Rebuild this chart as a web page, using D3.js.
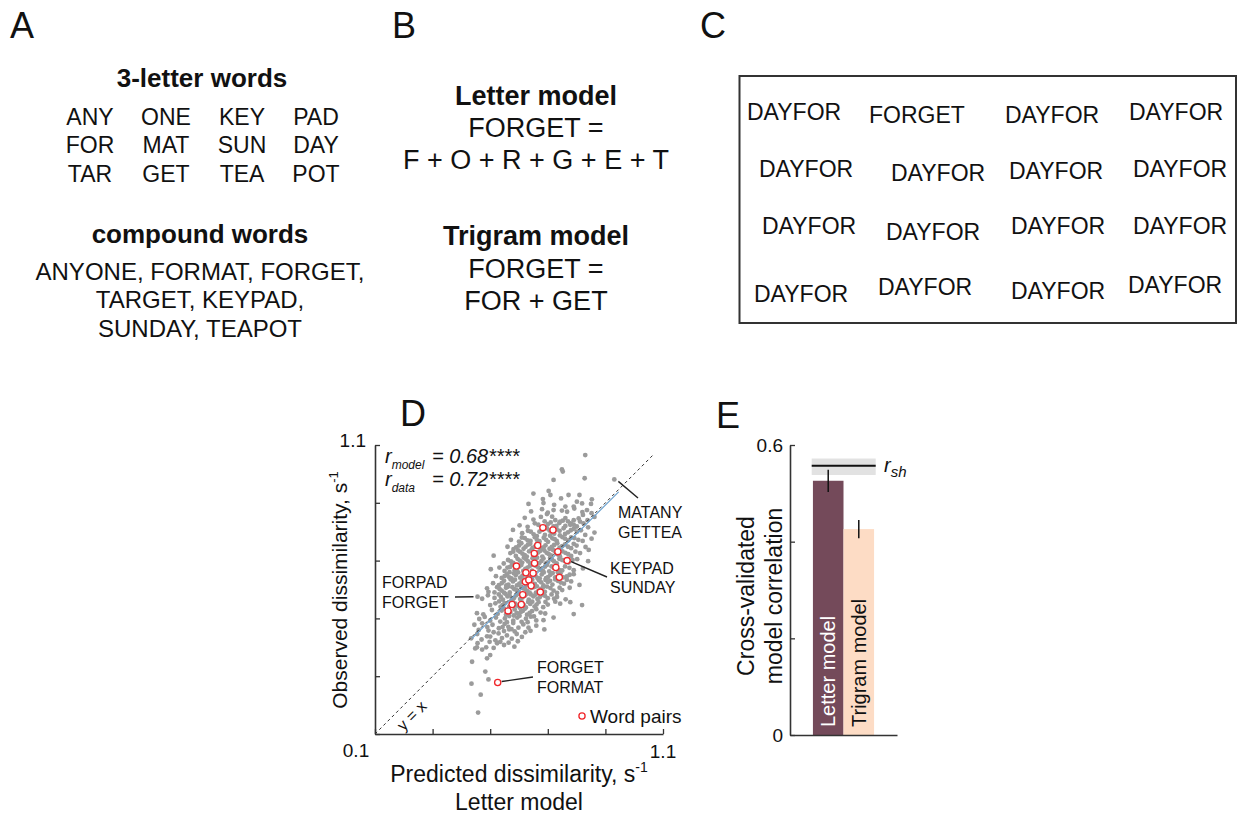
<!DOCTYPE html>
<html>
<head>
<meta charset="utf-8">
<title>Word model figure</title>
<script src="https://cdnjs.cloudflare.com/ajax/libs/d3/7.8.5/d3.min.js"></script>
<style>
  body { margin: 0; background: #fff; }
  svg { font-family: "Liberation Sans", Arial, sans-serif; fill: #111; }
</style>
</head>
<body>
<svg id="fig" width="1237" height="814"></svg>
<script>
// ---- panel A: stimuli
const threeLetter = [
  ["ANY", "ONE", "KEY", "PAD"],
  ["FOR", "MAT", "SUN", "DAY"],
  ["TAR", "GET", "TEA", "POT"]
];
const compoundLines = ["ANYONE, FORMAT, FORGET,", "TARGET, KEYPAD,", "SUNDAY, TEAPOT"];

// ---- panel B: models
const letterModel = ["FORGET =", "F + O + R + G + E + T"];
const trigramModel = ["FORGET =", "FOR + GET"];

// ---- panel C: search array
const searchWords = [
  "DAYFOR", "FORGET", "DAYFOR", "DAYFOR",
  "DAYFOR", "DAYFOR", "DAYFOR", "DAYFOR",
  "DAYFOR", "DAYFOR", "DAYFOR", "DAYFOR",
  "DAYFOR", "DAYFOR", "DAYFOR", "DAYFOR"
];

// ---- panel D: predicted vs observed dissimilarity (s^-1)
const grayPairs = [
  [0.458,0.174],[0.467,0.236],[0.435,0.274],[0.494,0.289],[0.483,0.316],[0.437,0.350],[0.489,0.362],[0.500,0.373],
  [0.448,0.396],[0.454,0.400],[0.456,0.414],[0.486,0.400],[0.498,0.419],[0.524,0.414],[0.535,0.419],[0.564,0.416],
  [0.584,0.402],[0.472,0.392],[0.512,0.398],[0.548,0.408],[0.596,0.421],
  [0.434,0.431],[0.470,0.427],[0.489,0.438],[0.500,0.437],[0.518,0.424],[0.529,0.448],[0.541,0.432],[0.558,0.441],
  [0.575,0.430],[0.592,0.446],[0.610,0.436],[0.622,0.452],[0.455,0.446],[0.494,0.458],[0.512,0.452],[0.548,0.456],
  [0.566,0.462],[0.640,0.457],[0.460,0.460],[0.585,0.455],
  [0.445,0.478],[0.472,0.483],[0.490,0.470],[0.508,0.478],[0.530,0.466],[0.550,0.481],[0.563,0.471],[0.580,0.484],
  [0.598,0.468],[0.615,0.479],[0.633,0.468],[0.660,0.475],[0.688,0.462],[0.574,0.463],[0.543,0.470],
  [0.462,0.498],[0.481,0.505],[0.500,0.492],[0.520,0.503],[0.535,0.489],[0.551,0.500],[0.566,0.508],[0.580,0.492],
  [0.594,0.503],[0.609,0.488],[0.624,0.499],[0.641,0.506],[0.660,0.493],[0.685,0.494],[0.720,0.503],[0.558,0.487],
  [0.602,0.509],[0.630,0.487],
  [0.454,0.518],[0.476,0.514],[0.506,0.529],[0.526,0.516],[0.540,0.527],[0.555,0.513],[0.570,0.522],[0.585,0.531],
  [0.598,0.516],[0.613,0.526],[0.628,0.513],[0.645,0.525],[0.660,0.532],[0.691,0.517],[0.790,0.515],[0.675,0.520],
  [0.548,0.534],[0.592,0.519],[0.620,0.533],
  [0.500,0.546],[0.518,0.552],[0.536,0.540],[0.550,0.553],[0.566,0.541],[0.579,0.556],[0.594,0.544],[0.610,0.555],
  [0.624,0.538],[0.639,0.550],[0.654,0.541],[0.668,0.556],[0.700,0.548],[0.726,0.558],[0.743,0.551],[0.778,0.556],
  [0.819,0.546],[0.684,0.539],[0.572,0.548],[0.603,0.537],[0.646,0.558],[0.531,0.559],
  [0.456,0.575],[0.472,0.568],[0.492,0.580],[0.515,0.571],[0.530,0.583],[0.544,0.565],[0.560,0.576],[0.574,0.564],
  [0.589,0.579],[0.604,0.567],[0.620,0.578],[0.634,0.565],[0.650,0.576],[0.664,0.567],[0.680,0.582],[0.700,0.570],
  [0.732,0.574],[0.762,0.566],[0.713,0.583],[0.596,0.584],[0.553,0.585],[0.641,0.583],
  [0.489,0.604],[0.494,0.592],[0.515,0.590],[0.524,0.608],[0.540,0.596],[0.555,0.606],[0.568,0.590],[0.584,0.601],
  [0.599,0.590],[0.614,0.604],[0.629,0.594],[0.644,0.606],[0.659,0.589],[0.675,0.601],[0.690,0.592],[0.709,0.605],
  [0.732,0.588],[0.750,0.598],[0.776,0.606],[0.562,0.610],[0.607,0.610],[0.652,0.608],[0.697,0.610],
  [0.510,0.622],[0.530,0.615],[0.548,0.630],[0.563,0.617],[0.579,0.628],[0.593,0.614],[0.609,0.627],[0.624,0.616],
  [0.638,0.630],[0.655,0.619],[0.669,0.632],[0.685,0.614],[0.700,0.626],[0.716,0.617],[0.735,0.630],[0.756,0.620],
  [0.781,0.628],[0.810,0.616],[0.571,0.635],[0.617,0.634],[0.662,0.611],[0.726,0.635],
  [0.520,0.646],[0.540,0.640],[0.558,0.652],[0.574,0.638],[0.589,0.650],[0.604,0.641],[0.620,0.655],[0.634,0.643],
  [0.649,0.657],[0.664,0.640],[0.679,0.652],[0.694,0.639],[0.709,0.651],[0.726,0.642],[0.744,0.656],[0.766,0.645],
  [0.790,0.653],[0.597,0.659],[0.642,0.637],[0.686,0.659],[0.567,0.660],[0.735,0.660],
  [0.502,0.670],[0.532,0.676],[0.550,0.664],[0.569,0.678],[0.585,0.667],[0.601,0.680],[0.615,0.664],[0.630,0.676],
  [0.645,0.665],[0.660,0.681],[0.675,0.668],[0.690,0.679],[0.705,0.663],[0.721,0.675],[0.740,0.667],[0.760,0.680],
  [0.790,0.667],[0.822,0.673],[0.608,0.685],[0.653,0.684],[0.697,0.685],[0.576,0.685],
  [0.547,0.690],[0.562,0.702],[0.580,0.692],[0.595,0.706],[0.611,0.693],[0.625,0.704],[0.640,0.690],[0.655,0.701],
  [0.670,0.691],[0.685,0.707],[0.700,0.694],[0.715,0.703],[0.731,0.690],[0.750,0.702],[0.772,0.693],[0.802,0.705],
  [0.840,0.698],[0.617,0.710],[0.663,0.710],[0.708,0.709],
  [0.512,0.717],[0.570,0.726],[0.589,0.716],[0.604,0.730],[0.620,0.719],[0.635,0.732],[0.650,0.717],[0.666,0.728],
  [0.681,0.714],[0.696,0.727],[0.711,0.718],[0.726,0.731],[0.742,0.715],[0.761,0.727],[0.781,0.716],[0.812,0.726],
  [0.842,0.737],[0.597,0.735],[0.643,0.737],[0.688,0.735],
  [0.560,0.748],[0.581,0.740],[0.600,0.752],[0.616,0.741],[0.631,0.755],[0.647,0.744],[0.662,0.757],[0.677,0.742],
  [0.692,0.753],[0.706,0.741],[0.722,0.754],[0.741,0.745],[0.760,0.756],[0.781,0.743],[0.800,0.752],[0.831,0.747],
  [0.608,0.760],[0.670,0.761],[0.733,0.760],
  [0.572,0.772],[0.600,0.766],[0.620,0.778],[0.640,0.768],[0.655,0.781],[0.671,0.767],[0.686,0.779],[0.701,0.765],
  [0.716,0.777],[0.731,0.768],[0.751,0.781],[0.771,0.770],[0.792,0.778],[0.821,0.768],[0.852,0.776],[0.662,0.785],
  [0.708,0.786],[0.742,0.787],
  [0.579,0.806],[0.611,0.795],[0.631,0.803],[0.651,0.791],[0.671,0.800],[0.690,0.789],[0.706,0.804],[0.722,0.793],
  [0.741,0.803],[0.760,0.792],[0.780,0.805],[0.801,0.800],[0.830,0.789],[0.862,0.797],[0.697,0.812],[0.755,0.812],
  [0.602,0.822],[0.630,0.817],[0.655,0.829],[0.679,0.815],[0.700,0.826],[0.720,0.818],[0.740,0.830],[0.761,0.820],
  [0.780,0.829],[0.801,0.818],[0.824,0.829],[0.840,0.815],[0.689,0.836],[0.752,0.838],
  [0.620,0.848],[0.650,0.842],[0.697,0.861],[0.715,0.852],[0.726,0.840],[0.743,0.835],[0.761,0.847],[0.790,0.840],
  [0.807,0.846],[0.822,0.858],[0.838,0.840],[0.862,0.851],[0.676,0.851],[0.778,0.824],
  [0.642,0.870],[0.680,0.878],[0.720,0.875],[0.749,0.873],[0.767,0.869],[0.792,0.880],[0.820,0.868],[0.836,0.875],
  [0.852,0.864],[0.700,0.866],
  [0.633,0.896],[0.685,0.899],[0.722,0.893],[0.761,0.887],[0.790,0.887],[0.801,0.904],[0.819,0.898],[0.850,0.896],
  [0.650,0.932],[0.683,0.913],[0.703,0.941],[0.709,0.927],[0.746,0.915],[0.772,0.927],[0.810,0.927],[0.853,0.912],
  [0.720,0.979],[0.749,1.016],[0.752,1.008],[0.828,0.985],[0.931,0.981],[0.830,1.065],
  // denser core
  [0.558,0.520],[0.582,0.510],[0.607,0.523],[0.637,0.519],[0.652,0.507],
  [0.543,0.546],[0.587,0.551],[0.617,0.546],[0.632,0.557],[0.661,0.548],[0.692,0.557],
  [0.537,0.574],[0.567,0.580],[0.582,0.570],[0.612,0.572],[0.627,0.584],[0.657,0.582],[0.672,0.573],[0.690,0.578],
  [0.722,0.568],[0.533,0.601],[0.548,0.589],[0.577,0.608],[0.592,0.598],[0.622,0.601],[0.637,0.589],[0.667,0.594],
  [0.683,0.607],[0.720,0.596],[0.741,0.606],[0.540,0.622],[0.556,0.614],[0.586,0.634],[0.601,0.620],[0.631,0.622],
  [0.646,0.634],[0.677,0.625],[0.692,0.633],[0.708,0.630],[0.745,0.624],[0.766,0.633],
  [0.550,0.646],[0.566,0.642],[0.582,0.656],[0.612,0.648],[0.627,0.638],[0.657,0.648],[0.672,0.638],[0.701,0.643],
  [0.717,0.657],[0.754,0.642],[0.776,0.651],[0.560,0.676],[0.593,0.672],[0.622,0.671],[0.638,0.682],[0.667,0.676],
  [0.683,0.664],[0.713,0.680],[0.730,0.672],[0.750,0.666],[0.775,0.675],
  [0.572,0.697],[0.603,0.700],[0.632,0.697],[0.647,0.708],[0.678,0.699],[0.693,0.690],[0.722,0.697],[0.740,0.706],
  [0.760,0.698],[0.786,0.702],[0.580,0.731],[0.612,0.724],[0.627,0.714],[0.658,0.722],[0.673,0.733],[0.703,0.723],
  [0.719,0.736],[0.734,0.722],[0.751,0.732],[0.771,0.722],[0.796,0.731],
  [0.590,0.746],[0.623,0.748],[0.639,0.758],[0.655,0.748],[0.685,0.746],[0.714,0.747],[0.750,0.750],[0.770,0.748],
  [0.790,0.758],[0.610,0.780],[0.630,0.770],[0.662,0.772],[0.694,0.772],[0.724,0.774],[0.760,0.776],[0.781,0.780],
  [0.806,0.772],[0.641,0.800],[0.680,0.806],[0.713,0.798],[0.731,0.808],[0.770,0.798],[0.790,0.810],[0.815,0.805],
  [0.667,0.824],[0.710,0.832],[0.730,0.820],[0.770,0.836],[0.790,0.824],[0.812,0.835]
];
const wordPairs = [
  [0.683,0.814],[0.718,0.806],[0.665,0.752],[0.653,0.725],[0.735,0.731],[0.767,0.700],[0.591,0.681],
  [0.654,0.691],[0.728,0.676],[0.624,0.658],[0.649,0.656],[0.740,0.642],[0.622,0.627],[0.634,0.633],
  [0.642,0.613],[0.674,0.591],[0.613,0.582],[0.576,0.548],[0.608,0.548],[0.562,0.526],[0.526,0.278]
];
const fitLine = [[0.437, 0.431], [0.946, 0.938]];
const diagEnd = 1.07;
const dTicks = [0.1, 0.3, 0.5, 0.7, 0.9, 1.1];
const rModel = "0.68", rData = "0.72";

// ---- panel E: cross-validated model correlation
const models = ["Letter model", "Trigram model"];
const modelCorr = [0.526, 0.426];
const modelErr = [0.023, 0.019];
const rsh = 0.557, rshLo = 0.538, rshHi = 0.572;
const eTicks = [0, 0.2, 0.4, 0.6];

const svg = d3.select("#fig");
const axisCol = "#333";

function txt(g, s, x, y, size, anchor) {
  return g.append("text").attr("x", x).attr("y", y)
    .attr("font-size", size).attr("text-anchor", anchor || "start").text(s);
}

// panel letters
[["A", 10, 38], ["B", 392, 38], ["C", 700, 38], ["D", 400, 426], ["E", 716, 428]]
  .forEach(d => txt(svg, d[0], d[1], d[2], 36));

// ---------- A
const gA = svg.append("g");
txt(gA, "3-letter words", 202, 87, 26, "middle").attr("font-weight", "bold");
const colX = [90, 166, 242, 316], rowY = [125, 153, 182];
threeLetter.forEach((row, i) => row.forEach((w, j) => txt(gA, w, colX[j], rowY[i], 23, "middle")));
txt(gA, "compound words", 200, 243, 26, "middle").attr("font-weight", "bold");
compoundLines.forEach((s, i) => txt(gA, s, 200, [280, 308, 337][i], 24, "middle"));

// ---------- B
const gB = svg.append("g");
txt(gB, "Letter model", 536, 105, 27, "middle").attr("font-weight", "bold");
letterModel.forEach((s, i) => txt(gB, s, 536, [137, 169][i], 27, "middle"));
txt(gB, "Trigram model", 536, 245, 27, "middle").attr("font-weight", "bold");
trigramModel.forEach((s, i) => txt(gB, s, 536, [278, 310][i], 27, "middle"));

// ---------- C
const gC = svg.append("g");
gC.append("rect").attr("x", 739.5).attr("y", 76).attr("width", 496.5).attr("height", 247)
  .attr("fill", "none").attr("stroke", "#333").attr("stroke-width", 2);
const cPos = [
  [747, 120], [869, 123], [1005, 123], [1129, 120],
  [759, 177], [891, 181], [1009, 179], [1133, 177],
  [762, 234], [886, 240], [1011, 234], [1133, 234],
  [754, 302], [878, 295], [1011, 299], [1128, 293]
];
searchWords.forEach((w, i) => txt(gC, w, cPos[i][0], cPos[i][1], 23));

// ---------- D
const gD = svg.append("g");
const x = d3.scaleLinear().domain([0.1, 1.1]).range([375, 663]);
const y = d3.scaleLinear().domain([0.1, 1.1]).range([734, 445]);

function styleAxis(g) {
  g.select(".domain").attr("stroke", axisCol).attr("stroke-width", 1.6);
  g.selectAll(".tick line").attr("stroke", axisCol).attr("stroke-width", 1.3);
  g.selectAll(".tick text").attr("font-size", 19).attr("fill", "#111")
    .attr("font-family", '"Liberation Sans", Arial, sans-serif');
}

gD.append("g").attr("transform", "translate(0,734)")
  .call(d3.axisBottom(x).tickValues(dTicks).tickSizeInner(-5).tickSizeOuter(0).tickFormat(""))
  .call(styleAxis);
gD.append("g").attr("transform", "translate(375,0)")
  .call(d3.axisLeft(y).tickValues(dTicks).tickSizeInner(-5).tickSizeOuter(0).tickFormat(""))
  .call(styleAxis);

txt(gD, "1.1", 366, 447, 19, "end");
txt(gD, "0.1", x(0.1) - 19, 757, 19, "middle");
txt(gD, "1.1", x(1.1), 758, 19, "middle");

gD.selectAll("circle.g").data(grayPairs).join("circle").attr("class", "g")
  .attr("cx", d => x(d[0])).attr("cy", d => y(d[1])).attr("r", 2.4).attr("fill", "#9b9b9b");

gD.append("line")
  .attr("x1", x(fitLine[0][0])).attr("y1", y(fitLine[0][1]))
  .attr("x2", x(fitLine[1][0])).attr("y2", y(fitLine[1][1]))
  .attr("stroke", "#6fa3d0").attr("stroke-width", 1.2);
gD.append("line")
  .attr("x1", x(0.1)).attr("y1", y(0.1)).attr("x2", x(diagEnd)).attr("y2", y(diagEnd))
  .attr("stroke", "#333").attr("stroke-width", 1).attr("stroke-dasharray", "3,3");

gD.selectAll("circle.w").data(wordPairs).join("circle").attr("class", "w")
  .attr("cx", d => x(d[0])).attr("cy", d => y(d[1])).attr("r", 3.1)
  .attr("fill", "#fff").attr("stroke", "#f0262a").attr("stroke-width", 1.3);

// correlation text
[["model", rModel, 463], ["data", rData, 486]].forEach(d => {
  const t = gD.append("text").attr("x", 385).attr("y", d[2]).attr("font-size", 20).attr("font-style", "italic");
  t.append("tspan").text("r");
  t.append("tspan").attr("font-size", 12).attr("dy", 6).text(d[0]);
  txt(gD, "= " + d[1] + "****", 432, d[2], 20).attr("font-style", "italic");
});

// annotations
function note(lines, lx, ly, p, off, end) {
  gD.append("line").attr("x1", x(p[0]) + off[0]).attr("y1", y(p[1]) + off[1])
    .attr("x2", end[0]).attr("y2", end[1]).attr("stroke", "#222").attr("stroke-width", 1.4);
  lines.forEach((s, i) => txt(gD, s, lx, ly[i], 16));
}
note(["MATANY", "GETTEA"], 618, [518, 538], [0.931, 0.981], [4, 2], [638, 498]);
note(["KEYPAD", "SUNDAY"], 610, [574, 593], [0.767, 0.700], [4, 1], [607, 577]);
note(["FORPAD", "FORGET"], 382, [588, 608], [0.456, 0.575], [-4, 0], [455, 597]);
note(["FORGET", "FORMAT"], 537, [673, 693], [0.526, 0.278], [4, -1], [533, 677]);

gD.append("text").attr("transform", "translate(412,716) rotate(-45)")
  .attr("text-anchor", "middle").attr("dy", 5).attr("font-size", 16).text("y = x");

gD.append("circle").attr("cx", 582).attr("cy", 716).attr("r", 3.1)
  .attr("fill", "#fff").attr("stroke", "#f0262a").attr("stroke-width", 1.3);
txt(gD, "Word pairs", 590, 723, 19);

const xl = txt(gD, "Predicted dissimilarity, s", 519, 782, 23, "middle");
xl.append("tspan").attr("font-size", 14).attr("dy", -10).text("-1");
txt(gD, "Letter model", 519, 810, 23, "middle");
const yl = gD.append("text").attr("transform", "translate(347,590) rotate(-90)")
  .attr("text-anchor", "middle").attr("font-size", 21).text("Observed dissimilarity, s");
yl.append("tspan").attr("font-size", 13).attr("dy", -9).text("-1");

// ---------- E
const gE = svg.append("g");
const xb = d3.scaleBand().domain(models).range([790, 897]).paddingInner(0).paddingOuter(0.75);
const yb = d3.scaleLinear().domain([0, 0.6]).range([735, 445]);
const barCol = ["#744a5a", "#fddcc5"];
const barTxt = ["#fff", "#111"];

gE.append("rect").attr("x", 811.7).attr("width", 64).attr("y", yb(rshHi)).attr("height", yb(rshLo) - yb(rshHi))
  .attr("fill", "#e2e2e2");
gE.append("line").attr("x1", 811.7).attr("x2", 875.7).attr("y1", yb(rsh)).attr("y2", yb(rsh))
  .attr("stroke", "#111").attr("stroke-width", 2);
const rs = gE.append("text").attr("x", 884).attr("y", 472).attr("font-size", 20).attr("font-style", "italic");
rs.append("tspan").text("r");
rs.append("tspan").attr("font-size", 15).attr("dy", 5).text("sh");

gE.selectAll("rect.bar").data(models).join("rect").attr("class", "bar")
  .attr("x", d => xb(d)).attr("width", xb.bandwidth())
  .attr("y", (d, i) => yb(modelCorr[i])).attr("height", (d, i) => yb(0) - yb(modelCorr[i]))
  .attr("fill", (d, i) => barCol[i]);
gE.selectAll("line.err").data(models).join("line").attr("class", "err")
  .attr("x1", d => xb(d) + xb.bandwidth() / 2).attr("x2", d => xb(d) + xb.bandwidth() / 2)
  .attr("y1", (d, i) => yb(modelCorr[i] + modelErr[i])).attr("y2", (d, i) => yb(modelCorr[i] - modelErr[i]))
  .attr("stroke", "#111").attr("stroke-width", 1.5);
models.forEach((m, i) => {
  gE.append("text").attr("transform", `translate(${xb(m) + xb.bandwidth() / 2 + 7},727) rotate(-90)`)
    .attr("font-size", 20).attr("fill", barTxt[i]).text(m);
});

gE.append("g").attr("transform", "translate(790,0)")
  .call(d3.axisLeft(yb).tickValues(eTicks).tickSizeInner(-5).tickSizeOuter(0).tickPadding(7)
    .tickFormat(d => (d === 0 || d === 0.6) ? String(d) : ""))
  .call(styleAxis);
gE.append("g").attr("transform", "translate(0,735)")
  .call(d3.axisBottom(xb).tickSize(0).tickFormat(""))
  .call(styleAxis);

const el = gE.append("text").attr("transform", "translate(754,596) rotate(-90)")
  .attr("text-anchor", "middle").attr("font-size", 23);
el.append("tspan").attr("x", 0).attr("y", 0).text("Cross-validated");
el.append("tspan").attr("x", 0).attr("y", 28).text("model correlation");
</script>
</body>
</html>
